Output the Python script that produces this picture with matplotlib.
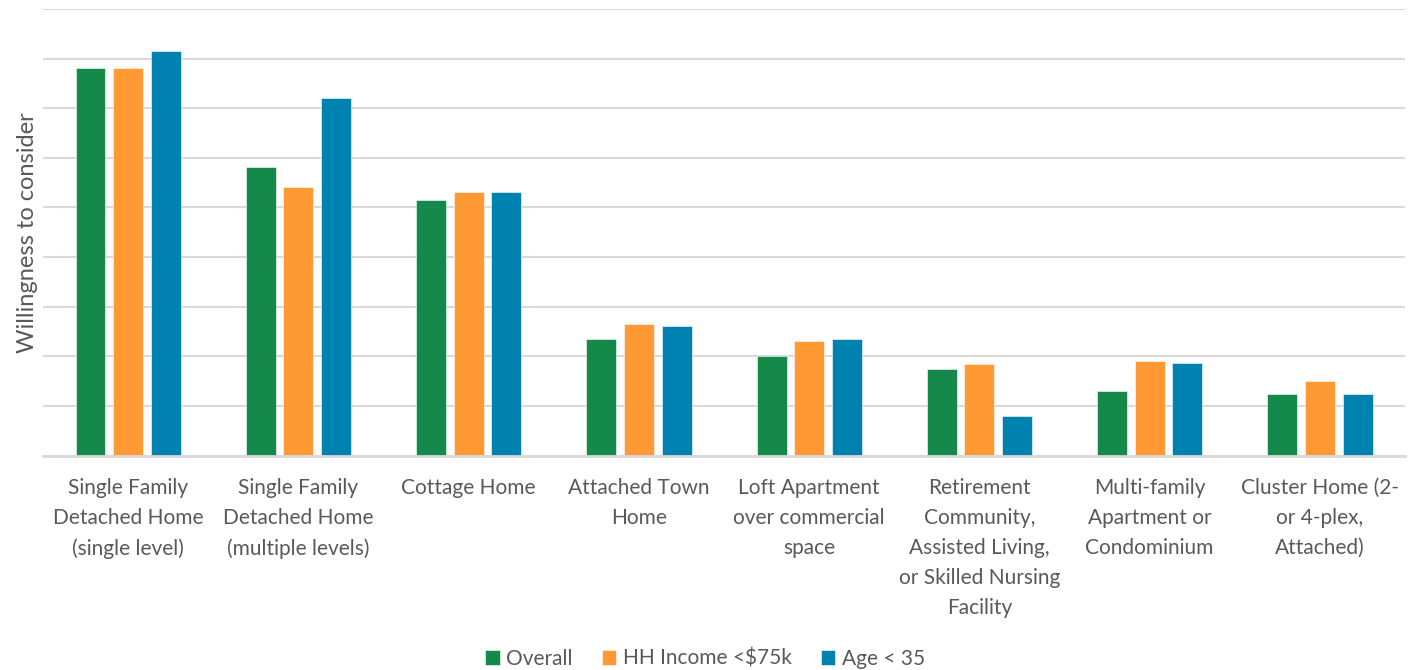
import matplotlib
matplotlib.use("Agg")
import matplotlib.pyplot as plt
import numpy as np

plt.rcParams['font.family'] = ['Lato', 'DejaVu Sans']

categories = [
    "Single Family\nDetached Home\n(single level)",
    "Single Family\nDetached Home\n(multiple levels)",
    "Cottage Home",
    "Attached Town\nHome",
    "Loft Apartment\nover commercial\nspace",
    "Retirement\nCommunity,\nAssisted Living,\nor Skilled Nursing\nFacility",
    "Multi-family\nApartment or\nCondominium",
    "Cluster Home (2-\nor 4-plex,\nAttached)",
]
overall = [78.1, 58.1, 51.5, 23.5, 20.0, 17.5, 13.0, 12.5]
hh_income = [78.1, 54.1, 53.1, 26.5, 23.0, 18.5, 19.0, 15.1]
age_35 = [81.6, 72.1, 53.1, 26.1, 23.5, 8.0, 18.6, 12.5]

series_names = ["Overall", "HH Income <$75k", "Age < 35"]
colors = ["#15894A", "#FF9933", "#0082B0"]
text_col = "#595959"
grid_col = "#D9D9D9"

fig = plt.figure(figsize=(14.1, 6.7), dpi=100)
ax = fig.add_axes([0.0305, 0.32, 0.966, 0.6666])

x = np.arange(len(categories))
step = 0.221
width = 0.176
for i, (vals, name, c) in enumerate(zip([overall, hh_income, age_35], series_names, colors)):
    ax.bar(x + (i - 1) * step, vals, width, color=c, label=name, zorder=3,
           edgecolor="white", linewidth=0.4)

ax.set_xlim(-0.5, len(categories) - 0.5)
ax.set_ylim(0, 90)
ax.set_yticks(np.arange(0, 91, 10))
ax.set_yticklabels([])
ax.tick_params(axis='y', length=0)
ax.yaxis.grid(True, color=grid_col, linewidth=1.5, zorder=0)
for s in ["top", "right", "left"]:
    ax.spines[s].set_visible(False)
ax.spines["bottom"].set_color(grid_col)
ax.spines["bottom"].set_linewidth(2)
ax.spines["bottom"].set_zorder(4)

ax.set_xticks(x)
ax.set_xticklabels(categories, fontsize=15, color=text_col, linespacing=1.62, va="top")
ax.tick_params(axis='x', length=0, pad=16)

ax.set_ylabel("Willingness to consider", fontsize=17, color=text_col, labelpad=0)

leg = fig.legend(loc="lower center", bbox_to_anchor=(0.5, -0.026), ncol=3, frameon=False,
                 fontsize=15, handlelength=0.7, handleheight=0.7, handletextpad=0.3,
                 columnspacing=1.4)
for t in leg.get_texts():
    t.set_color(text_col)

fig.savefig("out.png", dpi=100)
